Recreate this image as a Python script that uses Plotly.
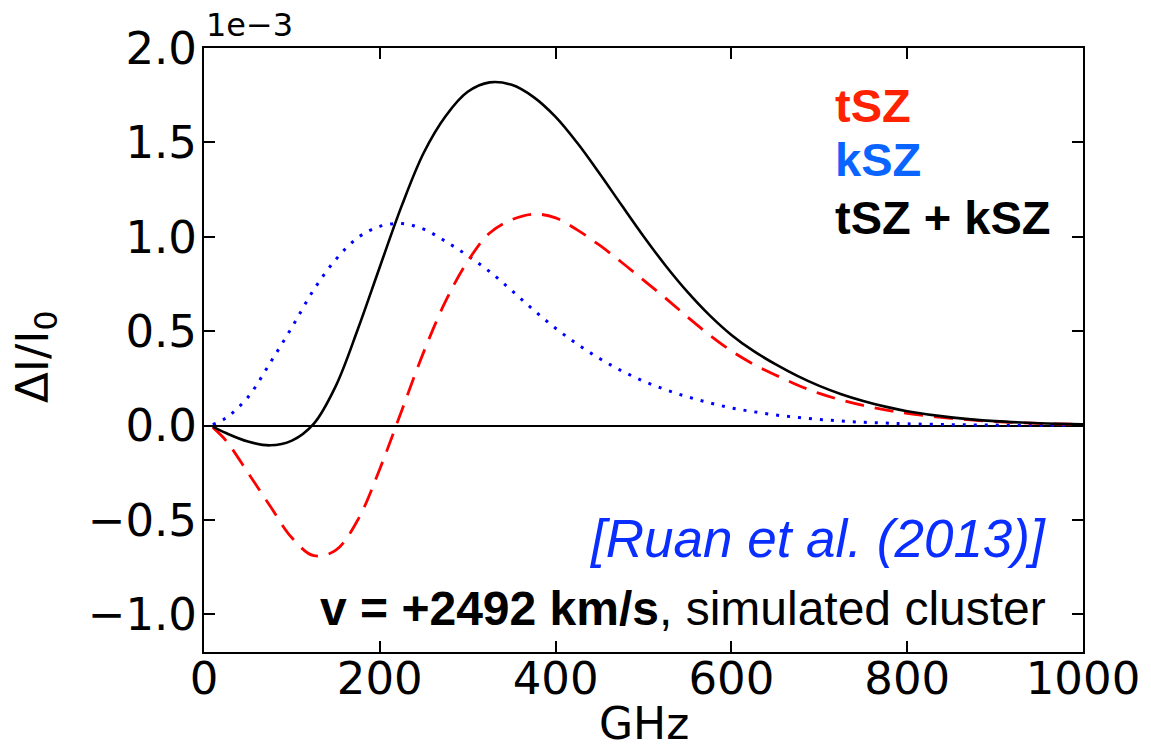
import plotly.graph_objects as go

# Frequency grid (GHz)
freq_ghz = [10, 25, 50, 75, 100, 125, 150, 175, 200, 225, 250, 275, 300, 325,
            350, 375, 400, 425, 450, 475, 500, 525, 550, 575, 600, 625, 650,
            675, 700, 725, 750, 775, 800, 850, 900, 950, 1000]

# Delta I / I0 in units of 1e-3
tsz = [-0.01, -0.08, -0.25, -0.425, -0.595, -0.69, -0.66, -0.50, -0.23, 0.08,
       0.39, 0.66, 0.87, 1.02, 1.09, 1.12, 1.10, 1.035, 0.955, 0.865, 0.77,
       0.675, 0.575, 0.48, 0.395, 0.325, 0.268, 0.215, 0.17, 0.135, 0.106,
       0.083, 0.064, 0.038, 0.021, 0.011, 0.006]

ksz = [0.005, 0.04, 0.15, 0.33, 0.52, 0.72, 0.88, 0.995, 1.055, 1.07, 1.04,
       0.975, 0.90, 0.815, 0.715, 0.612, 0.515, 0.43, 0.355, 0.29, 0.235,
       0.19, 0.152, 0.12, 0.093, 0.073, 0.056, 0.043, 0.032, 0.024, 0.017,
       0.013, 0.009, 0.0045, 0.002, 0.001, 0.0005]

total = [-0.006, -0.04, -0.085, -0.105, -0.08, 0.01, 0.21, 0.51, 0.84, 1.165,
         1.445, 1.64, 1.768, 1.818, 1.805, 1.74, 1.635, 1.495, 1.335, 1.168,
         1.003, 0.848, 0.708, 0.585, 0.48, 0.395, 0.325, 0.263, 0.21, 0.166,
         0.13, 0.10, 0.076, 0.043, 0.023, 0.012, 0.006]

x_ticks = [0, 200, 400, 600, 800, 1000]
y_ticks = [-1.0, -0.5, 0.0, 0.5, 1.0, 1.5, 2.0]

TICK_FONT = dict(family="DejaVu Sans", size=45, color="black")
SANS = "Liberation Sans, Arial, Helvetica, sans-serif"

fig = go.Figure()

fig.add_trace(go.Scatter(
    x=freq_ghz, y=ksz, mode="lines", line_shape="spline",
    line=dict(color="#0000ff", width=3, dash="3px,8px"), name="kSZ"))
fig.add_trace(go.Scatter(
    x=freq_ghz, y=tsz, mode="lines", line_shape="spline",
    line=dict(color="#ff0000", width=2.8, dash="19px,11px"), name="tSZ"))
fig.add_trace(go.Scatter(
    x=freq_ghz, y=total, mode="lines", line_shape="spline",
    line=dict(color="#000000", width=2.6), name="tSZ + kSZ"))

axis_common = dict(
    showgrid=False, showline=True, linecolor="black", linewidth=2,
    mirror="ticks", ticks="inside", ticklen=11, tickwidth=2,
    tickcolor="black", tickfont=TICK_FONT,
)

fig.update_xaxes(range=[0, 1000], tickvals=x_ticks, zeroline=False,
                 ticklabelstandoff=-14, **axis_common)
fig.update_yaxes(range=[-1.2, 2.0], tickvals=y_ticks, tickformat=".1f",
                 zeroline=True, zerolinecolor="black", zerolinewidth=2,
                 ticklabelstandoff=-4, **axis_common)

annotations = [
    dict(text="1e\u22123", x=0.0, y=1.0373, xanchor="left", yanchor="middle",
         font=dict(family="DejaVu Sans", size=32, color="black")),
    dict(text="GHz", x=0.5, y=-0.119, xanchor="center", yanchor="middle",
         font=dict(family="DejaVu Sans", size=44, color="black")),
    dict(text="\u0394I/I<sub>0</sub>", x=-0.1923, y=0.49, textangle=-90,
         xanchor="center", yanchor="middle",
         font=dict(family="DejaVu Sans", size=45, color="black")),
    dict(text="<b>tSZ</b>", x=0.7156, y=0.9056, xanchor="left",
         yanchor="middle", font=dict(family=SANS, size=47, color="#ff2200")),
    dict(text="<b>kSZ</b>", x=0.7156, y=0.8146, xanchor="left",
         yanchor="middle", font=dict(family=SANS, size=47, color="#0a64ff")),
    dict(text="<b>tSZ + kSZ</b>", x=0.7156, y=0.7194, xanchor="left",
         yanchor="middle", font=dict(family=SANS, size=47, color="black")),
    dict(text="<i>[Ruan et al. (2013)]</i>", x=0.960, y=0.1887,
         xanchor="right", yanchor="middle",
         font=dict(family=SANS, size=53, color="#0a2eff")),
    dict(text="<b>v = +2492 km/s</b>, simulated cluster", x=0.960, y=0.0712,
         xanchor="right", yanchor="middle",
         font=dict(family=SANS, size=48, color="black")),
]
for a in annotations:
    a.update(xref="paper", yref="paper", showarrow=False)

fig.update_layout(
    width=1151, height=754,
    margin=dict(l=204, r=68, t=48, b=102),
    paper_bgcolor="white", plot_bgcolor="white",
    showlegend=False, annotations=annotations,
)

fig.write_html("out.html")
